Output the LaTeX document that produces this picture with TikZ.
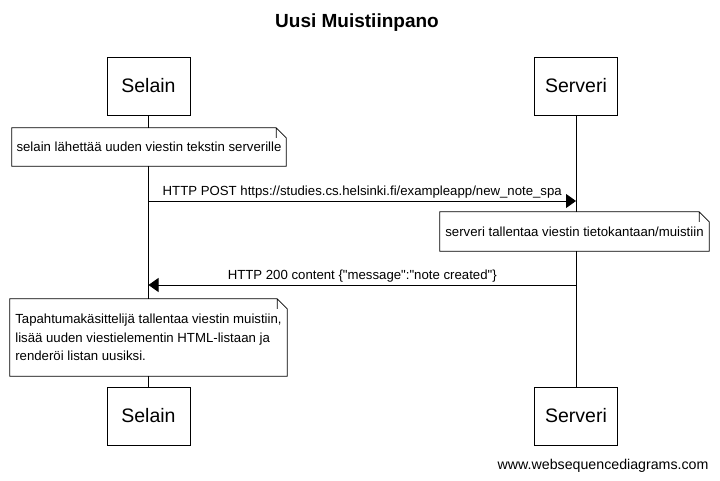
\documentclass[tikz,border=0pt]{standalone}
\usepackage{fontspec}
\setmainfont{Liberation Sans}
\usetikzlibrary{positioning, calc, arrows.meta}

\begin{document}
\begin{tikzpicture}[x=1pt, y=-1pt,
    actor/.style={draw, line width=0.8pt, fill=white, minimum width=83pt, minimum height=58pt, inner sep=0pt, font=\fontsize{19.5}{24}\selectfont},
    note/.style={fill=white, inner sep=4pt, font=\fontsize{13.2}{18.5}\selectfont},
    msg/.style={line width=0.8pt, -{Triangle[length=10pt, width=14pt]}},
    msgtext/.style={font=\fontsize{13.2}{15}\selectfont, inner sep=2pt}
  ]
    \useasboundingbox[fill=white] (0,0) rectangle (720,481);

    % title
    \node[font=\fontsize{19}{23}\bfseries] (title) at (357,23) {Uusi Muistiinpano};

    % actors
    \node[actor] (selainTop) at (148.5,86) {Selain};
    \node[actor] (serveriTop) at (576,86) {Serveri};
    \node[actor] (selainBot) at (148.5,416) {Selain};
    \node[actor] (serveriBot) at (576,416) {Serveri};

    % lifelines
    \draw[line width=0.8pt] (selainTop) -- (selainBot);
    \draw[line width=0.8pt] (serveriTop) -- (serveriBot);

    % notes
    \node[note, minimum width=274pt, minimum height=38pt] (noteA) at (149,147)
      {selain lähettää uuden viestin tekstin serverille};
    \node[note, minimum width=269pt, minimum height=39pt] (noteB) at (574.5,231.5)
      {serveri tallentaa viestin tietokantaan/muistiin};
    \node[note, minimum width=277pt, minimum height=77pt, align=left] (noteC) at (148.5,337.5)
      {Tapahtumakäsittelijä tallentaa viestin muistiin,\\lisää uuden viestielementin HTML-listaan ja\\renderöi listan uusiksi.};
    \foreach \n in {noteA, noteB, noteC}
      \draw[line width=0.8pt] (\n.south west) -- (\n.south east) -- ([yshift=-10pt]\n.north east)
        -- ([xshift=-10pt]\n.north east) -- (\n.north west) -- cycle
        ([xshift=-10pt]\n.north east) -- ([xshift=-10pt, yshift=-10pt]\n.north east);

    % messages
    \coordinate (postFrom) at (148.5,201);
    \coordinate (postTo) at (576,201);
    \coordinate (okFrom) at (576,285);
    \coordinate (okTo) at (148.5,285);
    \draw[msg] (postFrom) -- node[msgtext, midway, above] {HTTP POST https://studies.cs.helsinki.fi/exampleapp/new\_note\_spa} (postTo);
    \draw[msg] (okFrom) -- node[msgtext, midway, above]
      {HTTP 200 content \{\textquotedbl message\textquotedbl:\textquotedbl note created\textquotedbl\}} (okTo);

    % footer
    \node[font=\fontsize{14.2}{17}\selectfont, anchor=east] (footer) at (712,466) {www.websequencediagrams.com};
  \end{tikzpicture}
\end{document}
